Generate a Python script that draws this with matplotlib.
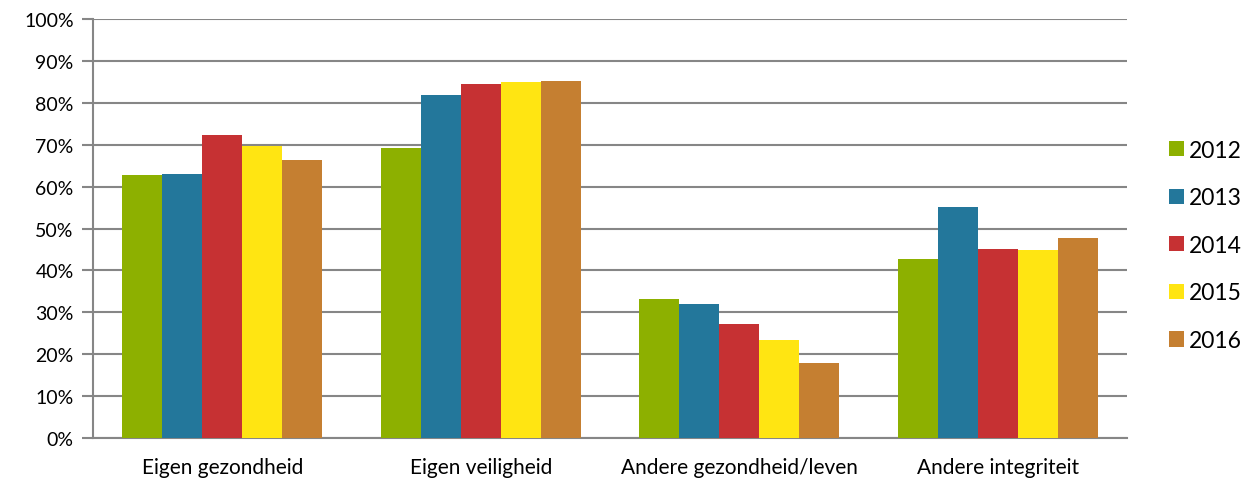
import matplotlib
matplotlib.use("Agg")
import matplotlib.pyplot as plt
import numpy as np
from matplotlib.patches import Patch

categories = ["Eigen gezondheid", "Eigen veiligheid", "Andere gezondheid/leven", "Andere integriteit"]
years = ["2012", "2013", "2014", "2015", "2016"]
values = {
    "2012": [62.8, 69.2, 33.1, 42.7],
    "2013": [63.0, 81.9, 32.0, 55.1],
    "2014": [72.2, 84.5, 27.1, 45.1],
    "2015": [69.7, 84.9, 23.5, 44.9],
    "2016": [66.4, 85.1, 17.9, 47.7],
}
colors = ["#8DB000", "#23779B", "#C63133", "#FFE512", "#C57F31"]

plt.rcParams['font.family'] = ['Lato', 'DejaVu Sans']

fig = plt.figure(figsize=(12.54, 4.85), dpi=100)
ax = fig.add_axes([0.0742, 0.0948, 0.8987 - 0.0742, 0.9588 - 0.0948])

x = np.arange(len(categories))
bw = 0.1545
for i, (yr, c) in enumerate(zip(years, colors)):
    ax.bar(x + (i - 2) * bw, values[yr], width=bw, color=c, edgecolor='none', zorder=3)

ax.set_xlim(-0.5, len(categories) - 0.5)
ax.set_ylim(0, 100)
ax.set_yticks(np.arange(0, 101, 10))
ax.set_yticklabels([f"{v}%" for v in range(0, 101, 10)], fontsize=14)
ax.yaxis.grid(True, color="#868686", linewidth=1.5, zorder=0)
ax.set_xticks(x)
ax.set_xticklabels(categories, fontsize=15)
ax.tick_params(axis='x', length=0, pad=14)
ax.tick_params(axis='y', length=8, width=1.5, color="#868686", pad=6)
for s in ['top', 'right']:
    ax.spines[s].set_visible(False)
for s in ['left', 'bottom']:
    ax.spines[s].set_color("#868686")
    ax.spines[s].set_linewidth(1.5)

handles = [Patch(facecolor=c, edgecolor='none') for c in colors]
fig.legend(handles, years, loc='center left', bbox_to_anchor=(0.932, 0.492), frameon=False,
           borderpad=0, borderaxespad=0,
           fontsize=16.5, handlelength=0.65, handleheight=0.65, labelspacing=1.16, handletextpad=0.25)

fig.savefig("out.png", dpi=100)
